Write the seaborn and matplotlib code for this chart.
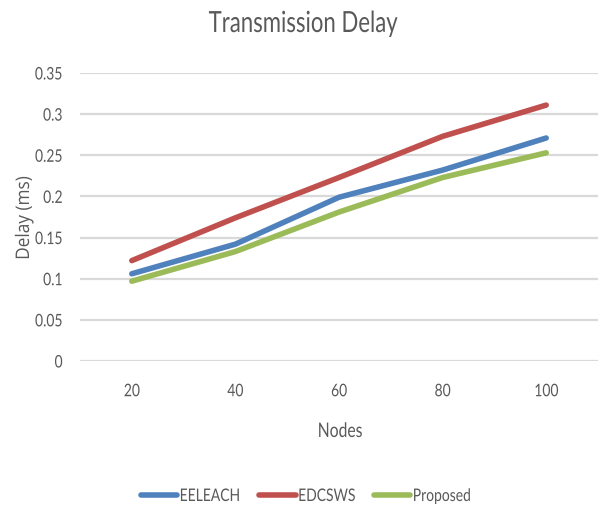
import matplotlib
matplotlib.use("Agg")
import matplotlib.pyplot as plt
from matplotlib.patheffects import AbstractPathEffect
from matplotlib.transforms import Affine2D
import seaborn as sns
import pandas as pd

nodes = ["20", "40", "60", "80", "100"]
eeleach = [0.106, 0.142, 0.199, 0.232, 0.271]
edcsws = [0.122, 0.174, 0.223, 0.273, 0.311]
proposed = [0.097, 0.133, 0.181, 0.223, 0.253]
series_names = ["EELEACH", "EDCSWS", "Proposed"]
yticks = [0, 0.05, 0.1, 0.15, 0.2, 0.25, 0.3, 0.35]
ytick_labels = ["0", "0.05", "0.1", "0.15", "0.2", "0.25", "0.3", "0.35"]


class Condense(AbstractPathEffect):
    """Squeeze glyphs horizontally around a chosen anchor of the string."""

    def __init__(self, sx=0.8, anchor="center"):
        super().__init__()
        self.sx = sx
        self.anchor = anchor

    def draw_path(self, renderer, gc, tpath, affine, rgbFace=None):
        ext = tpath.get_extents()
        if self.anchor == "right":
            cx = ext.x1
        elif self.anchor == "left":
            cx = ext.x0
        else:
            cx = 0.5 * (ext.x0 + ext.x1)
        squeeze = Affine2D().translate(-cx, 0).scale(self.sx, 1).translate(cx, 0)
        renderer.draw_path(gc, tpath, squeeze + affine, rgbFace)


df = pd.DataFrame({
    "Nodes": nodes * 3,
    "Delay": eeleach + edcsws + proposed,
    "Series": [s for s in series_names for _ in nodes],
})

sns.set_theme(style="white")
plt.rcParams["font.family"] = ["Lato", "DejaVu Sans"]
text_grey = "#595959"

fig = plt.figure(figsize=(6.01, 5.08), dpi=100)
ax = fig.add_axes([80 / 601, (508 - 361) / 508, 518 / 601, (361 - 73) / 508])

palette = {"EELEACH": "#4F81BD", "EDCSWS": "#C0504D", "Proposed": "#9BBB59"}
sns.lineplot(data=df, x="Nodes", y="Delay", hue="Series", hue_order=series_names,
             palette=palette, linewidth=4.0, ax=ax, sort=False,
             solid_capstyle="round", legend=True, zorder=3)

ax.set_xlim(-0.5, 4.5)
ax.set_ylim(0, 0.35)
ax.set_yticks(yticks)
ax.set_yticklabels(ytick_labels)
ax.yaxis.grid(True, color="#D9D9D9", linewidth=1.6, zorder=0)
ax.xaxis.grid(False)
for s in ax.spines.values():
    s.set_visible(False)
ax.tick_params(axis="both", length=0, labelsize=12.5, labelcolor=text_grey)
ax.tick_params(axis="y", pad=12.5)
ax.tick_params(axis="x", pad=16)
for lab in ax.get_yticklabels():
    lab.set_path_effects([Condense(0.8, "right")])
for lab in ax.get_xticklabels():
    lab.set_path_effects([Condense(0.8, "center")])

ax.set_xlabel("")
ax.set_ylabel("")
fig.text(340 / 601, 1 - 437 / 508, "Nodes", ha="center", va="baseline",
         fontsize=14.5, color=text_grey, path_effects=[Condense(0.78)])
fig.text(24 / 601, 1 - 218 / 508, "Delay (ms)", rotation=90, ha="center", va="center",
         fontsize=13.5, color=text_grey, family=["Open Sans", "DejaVu Sans"],
         path_effects=[Condense(0.92)])
fig.text(303 / 601, 1 - 32 / 508, "Transmission Delay", ha="center", va="baseline",
         fontsize=21, color=text_grey, path_effects=[Condense(0.76)])

handles, labels = ax.get_legend_handles_labels()
ax.get_legend().remove()
leg = fig.legend(handles, labels, loc="center", bbox_to_anchor=(313 / 601, 1 - 496 / 508),
                 ncol=3, frameon=False, fontsize=12.5, handlelength=2.1,
                 handletextpad=0.12, columnspacing=0.25, labelcolor=text_grey)
for t in leg.get_texts():
    t.set_path_effects([Condense(0.8, "left")])
for h in leg.get_lines():
    h.set_linewidth(4.0)

fig.savefig("out.png", dpi=100)
